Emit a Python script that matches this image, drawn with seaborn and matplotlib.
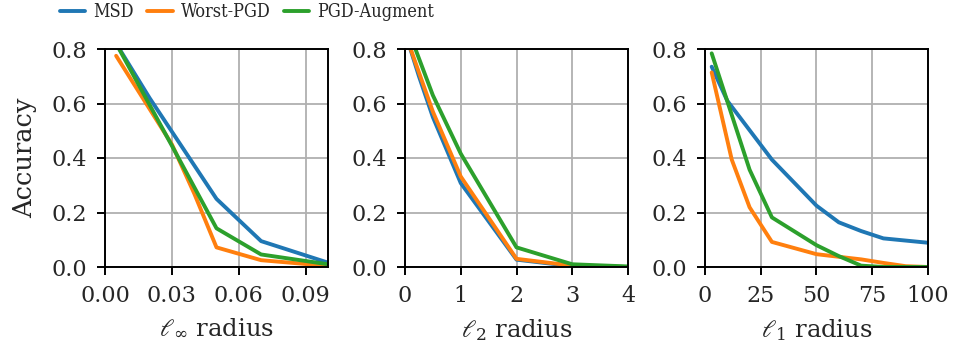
import matplotlib
matplotlib.use("Agg")
import matplotlib.pyplot as plt
import seaborn as sns
import pandas as pd

# ---- data ----
series_names = ["MSD", "Worst-PGD", "PGD-Augment"]
colors = ["#1f77b4", "#ff7f0e", "#2ca02c"]

# l_inf panel
linf_x_msd = [0.005, 0.02, 0.05, 0.07, 0.1]
linf_y_msd = [0.82, 0.62, 0.25, 0.095, 0.016]
linf_x_worst = [0.005, 0.02, 0.03, 0.04, 0.05, 0.07, 0.1]
linf_y_worst = [0.775, 0.58, 0.45, 0.27, 0.072, 0.025, 0.004]
linf_x_aug = [0.005, 0.03, 0.05, 0.07, 0.1]
linf_y_aug = [0.82, 0.445, 0.142, 0.046, 0.01]

# l_2 panel
l2_x_msd = [0.05, 0.25, 0.5, 1, 2, 3, 4]
l2_y_msd = [0.83, 0.70, 0.55, 0.308, 0.027, 0.003, 0.0]
l2_x_worst = [0.05, 0.25, 0.5, 1, 2, 3, 4]
l2_y_worst = [0.83, 0.714, 0.57, 0.332, 0.03, 0.005, 0.0]
l2_x_aug = [0.15, 0.5, 1, 2, 3, 4]
l2_y_aug = [0.82, 0.63, 0.416, 0.072, 0.01, 0.002]

# l_1 panel
l1_x_msd = [3, 10, 30, 50, 60, 70, 80, 100]
l1_y_msd = [0.735, 0.61, 0.394, 0.225, 0.164, 0.132, 0.105, 0.089]
l1_x_worst = [3, 12, 20, 30, 50, 70, 80, 90, 100]
l1_y_worst = [0.714, 0.394, 0.219, 0.092, 0.047, 0.028, 0.015, 0.003, 0.0]
l1_x_aug = [3, 20, 30, 50, 60, 70, 80, 100]
l1_y_aug = [0.784, 0.357, 0.182, 0.08, 0.04, 0.005, 0.0, 0.0]

panels = [
    (r"$\ell_\infty$ radius", [(linf_x_msd, linf_y_msd), (linf_x_worst, linf_y_worst), (linf_x_aug, linf_y_aug)],
     (0, 0.1), [0.0, 0.03, 0.06, 0.09], ["0.00", "0.03", "0.06", "0.09"]),
    (r"$\ell_2$ radius", [(l2_x_msd, l2_y_msd), (l2_x_worst, l2_y_worst), (l2_x_aug, l2_y_aug)],
     (0, 4), [0, 1, 2, 3, 4], ["0", "1", "2", "3", "4"]),
    (r"$\ell_1$ radius", [(l1_x_msd, l1_y_msd), (l1_x_worst, l1_y_worst), (l1_x_aug, l1_y_aug)],
     (0, 100), [0, 25, 50, 75, 100], ["0", "25", "50", "75", "100"]),
]
yticks = [0.0, 0.2, 0.4, 0.6, 0.8]
ytick_labels = ["0.0", "0.2", "0.4", "0.6", "0.8"]

sns.set_style("white")
plt.rcParams["font.family"] = ["DejaVu Serif"]
plt.rcParams["mathtext.fontset"] = "dejavuserif"

fig = plt.figure(figsize=(9.54, 3.47), dpi=100)
lefts = [105 / 954, 405 / 954, 705 / 954]
w = 223 / 954
bottom = 1 - 267 / 347
h = (267 - 49) / 347

handles = []
for i, (xlabel, data, xlim, xt, xtl) in enumerate(panels):
    ax = fig.add_axes([lefts[i], bottom, w, h])
    for (xs, ys), name, c in zip(data, series_names, colors):
        df = pd.DataFrame({"x": xs, "y": ys})
        sns.lineplot(data=df, x="x", y="y", ax=ax, color=c, linewidth=2.8,
                     label=name, legend=False)
    ax.set_xlim(*xlim)
    ax.set_ylim(0, 0.8)
    ax.set_xticks(xt)
    ax.set_xticklabels(xtl)
    ax.set_yticks(yticks)
    ax.set_yticklabels(ytick_labels)
    ax.grid(True, color="#b0b0b0", linewidth=1.3)
    ax.set_axisbelow(True)
    for s in ax.spines.values():
        s.set_color("black")
        s.set_linewidth(1.4)
    ax.tick_params(axis="both", direction="out", length=6, width=1.4, color="black",
                   labelsize=16, bottom=True, left=True, pad=7)
    ax.set_xlabel(xlabel, fontsize=17.5, labelpad=7)
    if i == 0:
        ax.set_ylabel("Accuracy", fontsize=18.5, labelpad=10)
        handles, labels = ax.get_legend_handles_labels()
    else:
        ax.set_ylabel("")

fig.legend(handles, labels, loc="upper left", bbox_to_anchor=(60 / 954, 0.99), ncol=3,
           frameon=False, prop={"family": "DejaVu Serif", "stretch": "condensed", "size": 13},
           handlelength=1.4, columnspacing=0.75, handletextpad=0.45,
           borderaxespad=0, borderpad=0)

fig.savefig("out.png", dpi=100)
